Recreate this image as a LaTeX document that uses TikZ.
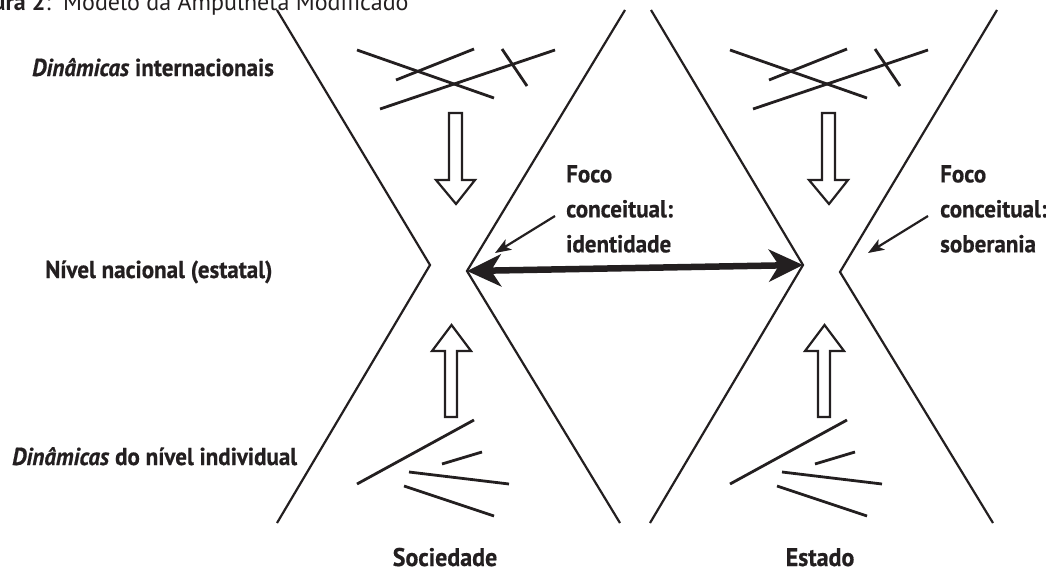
\documentclass[tikz,border=0pt]{standalone}
\usepackage{fontspec}
\setmainfont{PT Sans}
\newfontfamily\condfont{PT Sans}[FakeStretch=0.94,BoldFeatures={FakeBold=0.6},BoldItalicFeatures={FakeBold=0.6}]
\usetikzlibrary{arrows.meta}
\definecolor{ink}{HTML}{231F20}
\begin{document}
\begin{tikzpicture}[x=1pt,y=-1pt,
  glass/.style={draw=ink,line width=2.2pt,line join=miter},
  stroke/.style={draw=ink,line width=2.8pt},
  blockarrow/.style={draw=ink,line width=2.2pt,fill=white,line join=miter},
  lab/.style={text=ink,inner sep=0pt,font=\condfont\fontsize{24.5}{28}\selectfont\bfseries},
  foco/.style={text=ink,inner sep=0pt,align=left,font=\condfont\fontsize{24.5}{35}\selectfont\bfseries},
  bottomlab/.style={text=ink,inner sep=0pt,font=\condfont\fontsize{25.5}{30}\selectfont\bfseries},
  title/.style={text=ink,inner sep=0pt,font=\fontsize{24}{28}\selectfont},
  ptr/.style={draw=ink,line width=2.2pt,-{Stealth[length=16pt,width=12pt,inset=4pt]}},
  bigarrow/.style={draw=ink,line width=6.5pt,{Stealth[length=34pt,width=32pt,inset=10pt]}-{Stealth[length=34pt,width=32pt,inset=10pt]}}]
\path[use as bounding box] (0,0) rectangle (1046,573);
\clip (0,0) rectangle (1046,573);

% title (cut at the top)
\node[title,anchor=base east] (t1) at (51,10) {{\bfseries Figura 2}:};
\node[title,anchor=base west] (t2) at (63,10) {Modelo da Ampulheta Modificado};

% waist vertices
\coordinate (w1l) at (430,265);
\coordinate (w1r) at (467,271);
\coordinate (w2l) at (803,265);
\coordinate (w2r) at (840,272);

% hourglass 1
\draw[glass] (277,10) -- (w1l) -- (277,523);
\draw[glass] (625,10) -- (w1r) -- (620,523);
% hourglass 2
\draw[glass] (651,10) -- (w2l) -- (650,523);
\draw[glass] (997,10) -- (w2r) -- (993,523);

% decorations of both hourglasses
\foreach \dx in {0,373}{
\begin{scope}[xshift=\dx pt]
  % top crossing lines
  \draw[stroke] (357,50) -- (494,98);
  \draw[stroke] (396,80) -- (474,49);
  \draw[stroke] (380,109) -- (555,50);
  \draw[stroke] (502,49) -- (527,86);
  % down block arrow
  \draw[blockarrow] (449,113) -- (462,113) -- (462,180) -- (475,180) -- (456,204) -- (436,180) -- (449,180) -- cycle;
  % up block arrow
  \draw[blockarrow] (445,417) -- (457,417) -- (457,351) -- (471,351) -- (451.5,325) -- (432,351) -- (445,351) -- cycle;
  % bottom lines
  \draw[stroke] (357,484) -- (474,420);
  \draw[stroke] (442,464) -- (482,452);
  \draw[stroke] (409,472) -- (509,484);
  \draw[stroke] (404,486) -- (494,516);
\end{scope}}

% thick double arrow between the two waists
\draw[bigarrow] (w1r) -- (w2l);

% left labels
\node[lab,anchor=base west] (dinInt) at (32,76) {\textit{Dinâmicas} internacionais};
\node[lab,anchor=base west] (nivel) at (45,278) {Nível nacional (estatal)};
\node[lab,anchor=base west] (dinInd) at (12,465) {\textit{Dinâmicas} do nível individual};

% focus labels
\node[foco,anchor=north west] (foco1) at (566,165) {Foco\\conceitual:\\identidade};
\node[foco,anchor=north west] (foco2) at (940,165) {Foco\\conceitual:\\soberania};
\coordinate (p1s) at (555,216);
\coordinate (p1e) at (495,253);
\coordinate (p2s) at (928,216);
\coordinate (p2e) at (868,253);
\draw[ptr] (p1s) -- (p1e);
\draw[ptr] (p2s) -- (p2e);

% bottom labels
\node[bottomlab,anchor=base] (soc) at (445,566) {Sociedade};
\node[bottomlab,anchor=base] (est) at (820,566) {Estado};
\end{tikzpicture}
\end{document}
